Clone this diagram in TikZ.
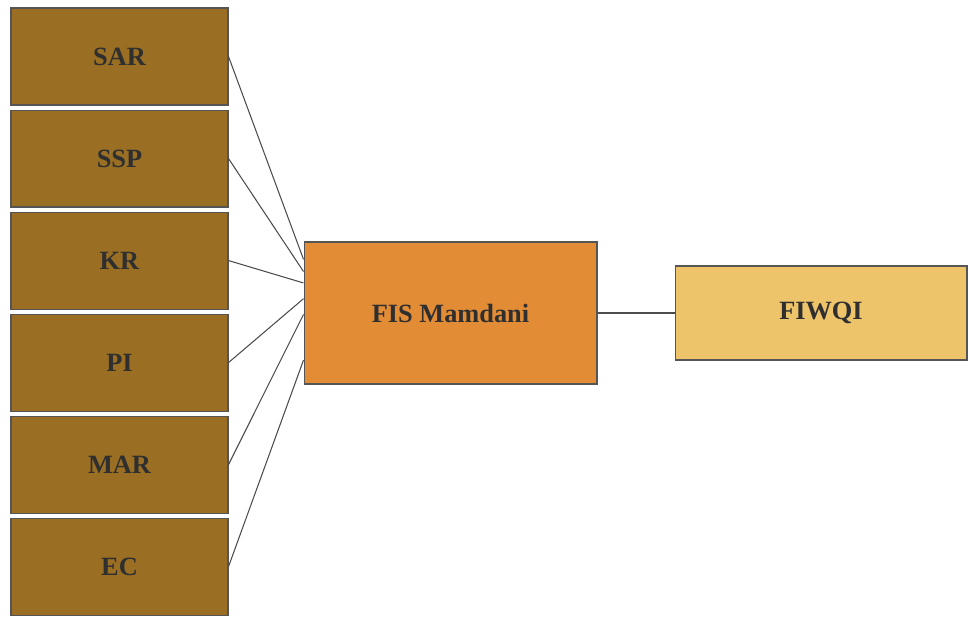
\documentclass[tikz,border=0pt]{standalone}
\usepackage{fontspec}
\setmainfont{Liberation Serif}
\usetikzlibrary{positioning,calc}

\definecolor{inbrown}{HTML}{9A6F24}
\definecolor{fisorange}{HTML}{E38C36}
\definecolor{outyellow}{HTML}{EEC46A}
\definecolor{edgegray}{HTML}{555555}
\definecolor{textgray}{HTML}{2F2F2F}

\begin{document}
\begin{tikzpicture}\fontsize{15}{18}\selectfont\bfseries
\tikzset{x=0.02cm,y=-0.02cm}
\tikzset{box/.style={draw=edgegray,line width=0.6pt,text=textgray,inner sep=0pt}}
\tikzset{inbox/.style={box,fill=inbrown,minimum width=4.34cm,minimum height=1.94cm}}
\tikzset{link/.style={draw=edgegray!90!black,line width=0.6pt}}
\useasboundingbox (0,0) rectangle (968,617);
% inputs
\node[inbox] (sar) at (119.5,56.5) {SAR};
\node[inbox,below=0.08cm of sar] (ssp) {SSP};
\node[inbox,below=0.08cm of ssp] (kr) {KR};
\node[inbox,below=0.08cm of kr] (pi) {PI};
\node[inbox,below=0.08cm of pi] (mar) {MAR};
\node[inbox,below=0.08cm of mar] (ec) {EC};
% inference system and output
\node[box,fill=fisorange,minimum width=5.86cm,minimum height=2.84cm] (fis) at (450.5,313) {FIS Mamdani};
\node[box,fill=outyellow,minimum width=5.84cm,minimum height=1.88cm] (fiwqi) at (821,313) {FIWQI};
%\draw[link] (sar.east) -- (fis.west);
\foreach \src/\f in {sar/0.125,ssp/0.21,kr/0.29,pi/0.40,mar/0.51,ec/0.83}
  \draw[link] (\src.east) -- ($(fis.north west)!\f!(fis.south west)$);
\draw[link] (fis) -- (fiwqi);
\end{tikzpicture}
\end{document}
